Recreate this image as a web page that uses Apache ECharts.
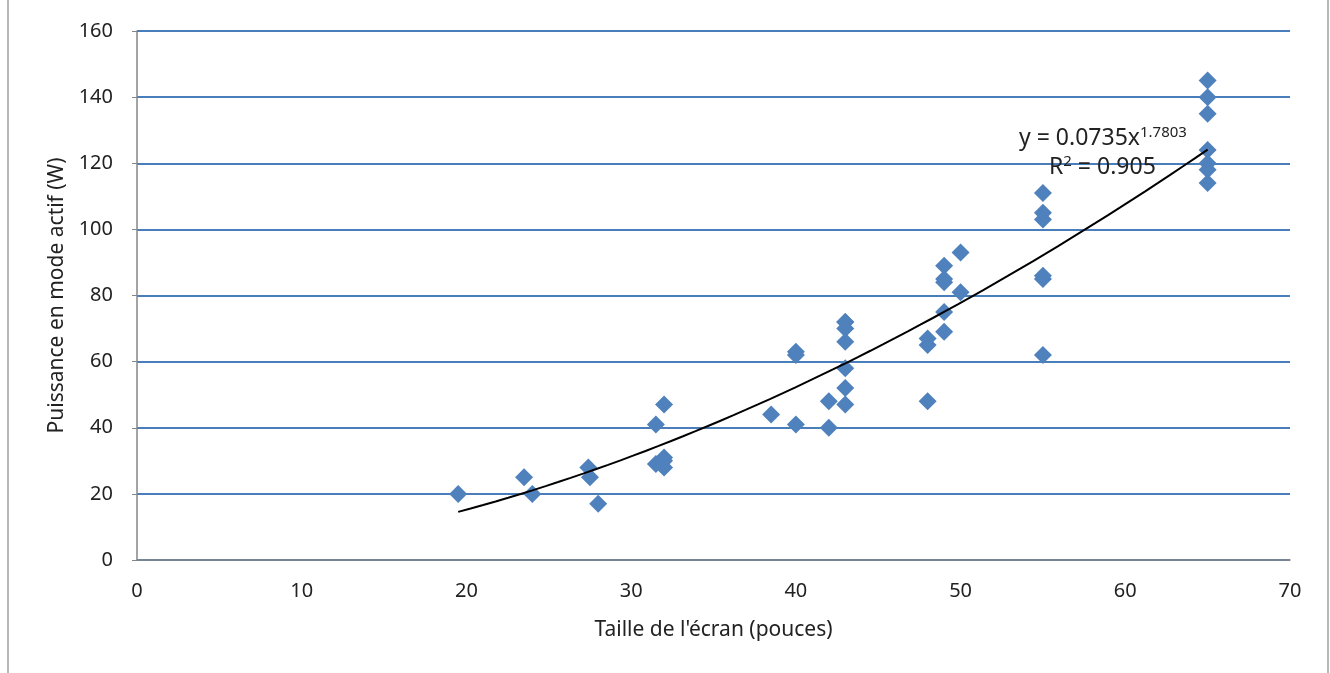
<!DOCTYPE html>
<html>
<head>
<meta charset="utf-8">
<script src="https://cdn.jsdelivr.net/npm/echarts@6/dist/echarts.min.js"></script>
<style>html,body{margin:0;padding:0;background:#fff;}#c{width:1330px;height:673px;}</style>
</head>
<body>
<div id="c"></div>
<script>
// Screen size (inches) and active-mode power (W)
const sizes = [19.5, 23.5, 24, 27.4, 27.5, 28, 31.5, 31.5, 32, 32, 32, 32,
  38.5, 40, 40, 40, 42, 42, 43, 43, 43, 43, 43, 43, 43,
  48, 48, 48, 49, 49, 49, 49, 49, 50, 50,
  55, 55, 55, 55, 55, 55, 65, 65, 65, 65, 65, 65, 65];
const power = [20, 25, 20, 28, 25, 17, 41, 29, 47, 31, 30, 28,
  44, 41, 63, 62, 48, 40, 47, 52, 58, 66, 70, 72, 72,
  48, 65, 67, 69, 75, 84, 85, 89, 81, 93,
  62, 85, 86, 103, 105, 111, 145, 140, 135, 124, 120, 118, 114];
// Power trendline shown on the chart: y = a * x^b
const trendCoef = [0.0735, 1.7803];
const trendRange = [19.5, 65];
const xTicks = [0, 10, 20, 30, 40, 50, 60, 70];
const yTicks = [0, 20, 40, 60, 80, 100, 120, 140, 160];

const scatterData = sizes.map((s, i) => [s, power[i]]);
const trendData = [];
for (let k = 0; k <= 60; k++) {
  const x = trendRange[0] + (trendRange[1] - trendRange[0]) * k / 60;
  trendData.push([x, trendCoef[0] * Math.pow(x, trendCoef[1])]);
}
const font = 'Noto Sans';
const chart = echarts.init(document.getElementById('c'), null, {renderer: 'canvas'});
chart.setOption({
  animation: false,
  backgroundColor: '#fff',
  grid: {left: 137, right: 40, top: 31, bottom: 113, containLabel: false},
  xAxis: {
    type: 'value', min: xTicks[0], max: xTicks[xTicks.length - 1], interval: 10,
    name: "Taille de l'écran (pouces)", nameLocation: 'middle', nameGap: 60,
    nameTextStyle: {fontFamily: font, fontSize: 21, color: '#222'},
    axisLine: {show: true, lineStyle: {color: '#868686', width: 1.5}},
    axisTick: {show: false},
    axisLabel: {fontFamily: font, fontSize: 20, color: '#222', margin: 21},
    splitLine: {show: false}
  },
  yAxis: {
    type: 'value', min: yTicks[0], max: yTicks[yTicks.length - 1], interval: 20,
    name: 'Puissance en mode actif (W)', nameLocation: 'middle', nameGap: 69,
    nameTextStyle: {fontFamily: font, fontSize: 21, color: '#222'},
    axisLine: {show: true, lineStyle: {color: '#868686', width: 1.5}},
    axisTick: {show: true, length: 5, lineStyle: {color: '#868686'}},
    axisLabel: {fontFamily: font, fontSize: 20, color: '#222', margin: 24},
    splitLine: {show: true, lineStyle: {color: '#4a7ebb', width: 2}}
  },
  series: [
    {
      type: 'scatter', data: scatterData, symbol: 'diamond', symbolSize: 18,
      itemStyle: {color: '#4f81bd', opacity: 1}, z: 2
    },
    {
      type: 'line', data: trendData, showSymbol: false, smooth: false,
      lineStyle: {color: '#000', width: 2}, z: 3
    }
  ],
  graphic: [
    {type: 'line', shape: {x1: 8, y1: 0, x2: 8, y2: 673}, style: {stroke: '#a0a0a0', lineWidth: 1.5}},
    {type: 'line', shape: {x1: 1328, y1: 0, x2: 1328, y2: 673}, style: {stroke: '#a0a0a0', lineWidth: 1.5}},
    {
      type: 'text', left: 1019, top: 125, z: 10,
      style: {
        text: '{m|y = 0.0735x}{s|1.7803}',
        rich: {
          m: {fontFamily: font, fontSize: 23, fill: '#222', verticalAlign: 'bottom', lineHeight: 28},
          s: {fontFamily: font, fontSize: 15, fill: '#222', verticalAlign: 'bottom', lineHeight: 28, padding: [0, 0, 10, 0]}
        }
      }
    },
    {
      type: 'text', left: 1049, top: 154, z: 10,
      style: {
        text: '{m|R}{s|2}{m| = 0.905}',
        rich: {
          m: {fontFamily: font, fontSize: 23, fill: '#222', verticalAlign: 'bottom', lineHeight: 28},
          s: {fontFamily: font, fontSize: 15, fill: '#222', verticalAlign: 'bottom', lineHeight: 28, padding: [0, 0, 10, 0]}
        }
      }
    }
  ]
});
</script>
</body>
</html>
